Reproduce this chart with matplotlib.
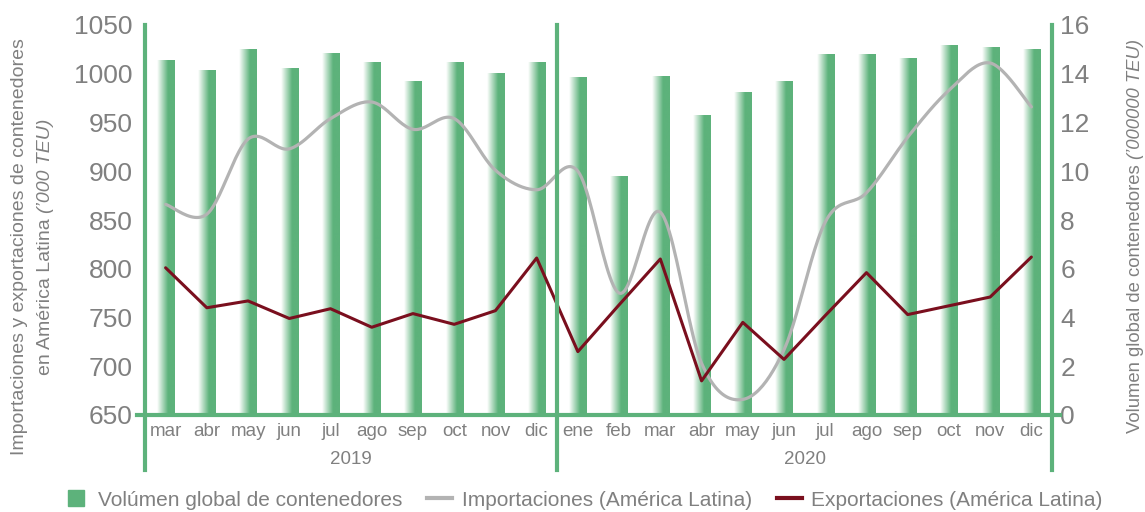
import numpy as np
import matplotlib
matplotlib.use('Agg')
import matplotlib.pyplot as plt
from matplotlib.colors import LinearSegmentedColormap
from matplotlib.lines import Line2D

plt.rcParams['font.family'] = ['Liberation Sans', 'DejaVu Sans']

months_2019 = ['mar', 'abr', 'may', 'jun', 'jul', 'ago', 'sep', 'oct', 'nov', 'dic']
months_2020 = ['ene', 'feb', 'mar', 'abr', 'may', 'jun', 'jul', 'ago', 'sep', 'oct', 'nov', 'dic']
years = ['2019', '2020']

# global container volume ('000000 TEU), right axis
volumen = [14.55, 14.15, 15.0, 14.25, 14.85, 14.5, 13.7, 14.5, 14.05, 14.5,
           13.85, 9.8, 13.9, 12.3, 13.25, 13.7, 14.8, 14.8, 14.65, 15.2, 15.1, 15.0]
# Latin America imports / exports ('000 TEU), left axis
importaciones = [866, 856, 933, 923, 954, 971, 943, 954, 901, 881,
                 900, 775, 858, 703, 666, 717, 848, 878, 935, 983, 1011, 966]
exportaciones = [801, 760, 767, 749, 759, 740, 754, 743, 757, 811,
                 715, 763, 810, 685, 745, 707, 752, 796, 753, 762, 771, 812]

GREEN = '#5db27b'
GRAY = '#b3b3b3'
RED = '#7a0f1e'
TXT = '#808080'

W, H = 1145, 512


def smooth(y, steps=24):
  # Catmull-Rom curve through the points (like a "smoothed line")
  p = np.column_stack([np.arange(len(y)), np.asarray(y, float)])
  n = len(p)
  t = np.linspace(0, 1, steps)[:, None]
  out = []
  for i in range(n - 1):
    p0, p1, p2, p3 = p[max(i - 1, 0)], p[i], p[i + 1], p[min(i + 2, n - 1)]
    seg = 0.5 * (2 * p1 + (-p0 + p2) * t + (2 * p0 - 5 * p1 + 4 * p2 - p3) * t ** 2
                 + (-p0 + 3 * p1 - 3 * p2 + p3) * t ** 3)
    out.append(seg if i == 0 else seg[1:])
  out = np.vstack(out)
  return out[:, 0], out[:, 1]


fig = plt.figure(figsize=(W / 100, H / 100), dpi=100)
ax = fig.add_axes([145 / W, 97 / H, 907 / W, 390 / H])
ax2 = ax.twinx()
ax.set_zorder(ax2.get_zorder() + 1)
ax.patch.set_visible(False)

labels = months_2019 + months_2020
x = np.arange(len(labels))

# bars with white -> green gradient
cmap = LinearSegmentedColormap.from_list('g', ['#ffffff', GREEN])
grad = np.clip(np.linspace(0, 1, 64) / 0.62, 0, 1)[None, :]
bars = ax2.bar(x, volumen, width=0.42, color='none', edgecolor='none')
for b in bars:
  x0, y0 = b.get_x(), b.get_y()
  im = ax2.imshow(grad, extent=[x0, x0 + b.get_width(), y0, y0 + b.get_height()],
                  aspect='auto', cmap=cmap, vmin=0, vmax=1, zorder=1)
  im.set_clip_path(b)

gx, gy = smooth(importaciones)
ax.plot(gx, gy, color=GRAY, lw=2.3, solid_capstyle='round')
ax.plot(x, exportaciones, color=RED, lw=2.2, solid_joinstyle='round', solid_capstyle='round')

ax.set_xlim(-0.5, len(labels) - 0.5)
ax.set_ylim(650, 1050)
ax.set_yticks(np.arange(650, 1051, 50))
ax2.set_ylim(0, 16)
ax2.set_yticks(np.arange(0, 17, 2))
ax2.set_xlim(-0.5, len(labels) - 0.5)

for a in (ax, ax2):
  for s in a.spines.values():
    s.set_visible(False)
ax.tick_params(axis='y', length=0, pad=9, labelsize=19, labelcolor=TXT)
ax2.tick_params(axis='y', length=0, pad=6, labelsize=19, labelcolor=TXT)
ax.set_xticks(x)
ax.set_xticklabels(labels)
ax.tick_params(axis='x', length=0, pad=6, labelsize=13.5, labelcolor=TXT)

# axis frame lines in green
low = -55 / 390
ax.add_line(Line2D([0, 0], [1, low], transform=ax.transAxes, color=GREEN, lw=3, clip_on=False))
ax.add_line(Line2D([1, 1], [1, low], transform=ax.transAxes, color=GREEN, lw=3, clip_on=False))
ax.add_line(Line2D([-8 / 907, 1 + 8 / 907], [0, 0], transform=ax.transAxes, color=GREEN, lw=3, clip_on=False))
ax.add_line(Line2D([len(months_2019) - 0.5] * 2, [1, low], transform=ax.get_xaxis_transform(),
                   color=GREEN, lw=3, clip_on=False))

ax.text((len(months_2019) - 1) / 2, -45 / 390, years[0], transform=ax.get_xaxis_transform(),
        ha='center', va='center', fontsize=13.5, color=TXT)
ax.text(len(months_2019) + (len(months_2020) - 1) / 2, -45 / 390, years[1],
        transform=ax.get_xaxis_transform(), ha='center', va='center', fontsize=13.5, color=TXT)


def vlabel(xpx, ycpx, normal, italic, size=14):
  t1 = fig.text(xpx / W, 0, normal, rotation=90, ha='center', va='bottom', fontsize=size, color=TXT)
  t2 = fig.text(xpx / W, 0, italic, rotation=90, ha='center', va='bottom', fontsize=size,
                color=TXT, style='italic')
  fig.canvas.draw()
  r = fig.canvas.get_renderer()
  h1 = t1.get_window_extent(r).height
  h2 = t2.get_window_extent(r).height
  y0 = (H - ycpx) - (h1 + h2) / 2
  t1.set_y(y0 / H)
  t2.set_y((y0 + h1) / H)


fig.text(20 / W, 1 - 247 / H, 'Importaciones y exportaciones de contenedores', rotation=90,
         ha='center', va='center', fontsize=14, color=TXT)
vlabel(46, 247, 'en América Latina ', '(’000 TEU)')
vlabel(1135, 236, 'Volumen global de contenedores ', '(’000000 TEU)', size=13.3)

handles = [Line2D([], [], marker='s', ls='none', color=GREEN, markersize=12),
           Line2D([], [], color=GRAY, lw=3),
           Line2D([], [], color=RED, lw=3)]
fig.legend(handles, ['Volúmen global de contenedores', 'Importaciones (América Latina)',
                     'Exportaciones (América Latina)'],
           loc='center', bbox_to_anchor=(583 / W, 12 / H), ncol=3, frameon=False, fontsize=15,
           labelcolor=TXT, handlelength=1.2, handletextpad=0.45, columnspacing=1.2)

fig.savefig('out.png', dpi=100)
